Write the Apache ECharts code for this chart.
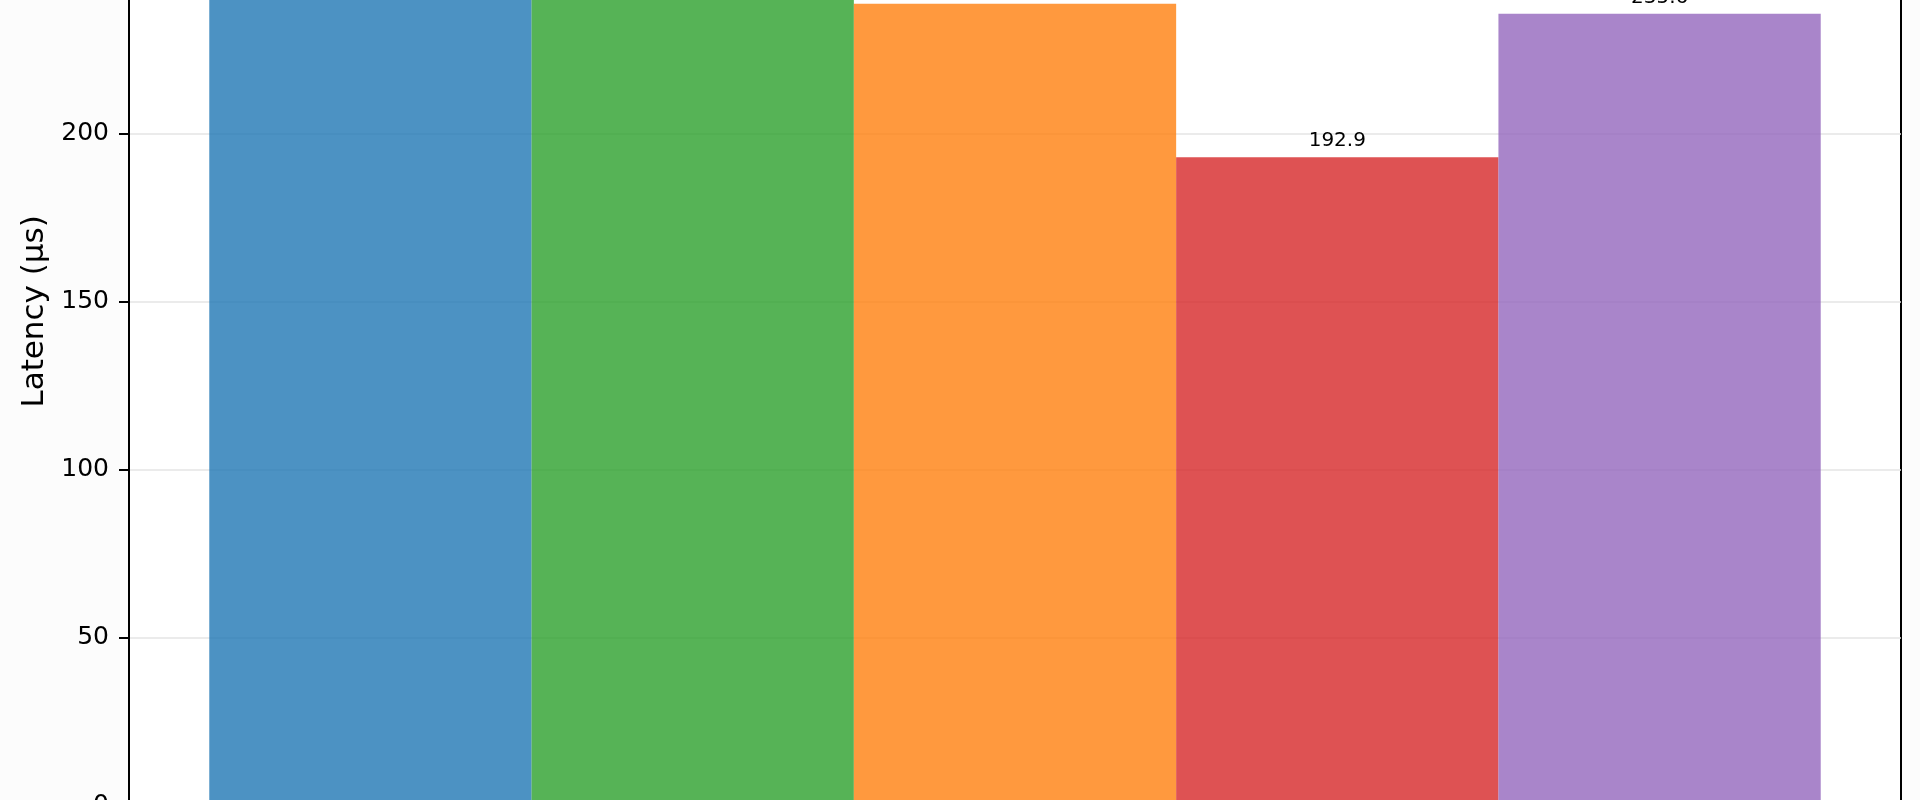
<!DOCTYPE html>
<html>
<head>
<meta charset="utf-8">
<script src="https://cdn.jsdelivr.net/npm/echarts@6/dist/echarts.min.js"></script>
<style>
html,body{margin:0;padding:0;background:#fcfcfc;overflow:hidden;width:1920px;height:800px;}
#chart{position:absolute;left:0;top:-200px;width:1920px;height:1020px;}
</style>
</head>
<body>
<div id="chart"></div>
<script>
// Data
const categories = ['Latency'];
const seriesNames = ['Run 1', 'Run 2', 'Run 3', 'Run 4', 'Run 5'];
const seriesValues = [255.8, 247.3, 238.6, 192.9, 235.6];
const seriesColors = ['#1f77b4', '#2ca02c', '#ff7f0e', '#d62728', '#9467bd'];
const yAxisTitle = 'Latency (μs)';
const yMin = 0, yMax = 294, yInterval = 50;

function withAlpha(hex, a) {
  const r = parseInt(hex.slice(1, 3), 16), g = parseInt(hex.slice(3, 5), 16), b = parseInt(hex.slice(5, 7), 16);
  return 'rgba(' + r + ',' + g + ',' + b + ',' + a + ')';
}

const chart = echarts.init(document.getElementById('chart'), null, {renderer: 'canvas'});
const FONT = 'DejaVu Sans';

const series = seriesNames.map((name, i) => ({
  name: name,
  type: 'bar',
  data: [seriesValues[i]],
  barGap: '0%',
  barCategoryGap: '9.06%',
  itemStyle: {color: withAlpha(seriesColors[i], 0.8)},
  label: {
    show: true,
    position: 'top',
    distance: 6,
    color: '#000',
    fontFamily: FONT,
    fontSize: 20,
    formatter: p => p.value.toFixed(1)
  },
  emphasis: {disabled: true}
}));

chart.setOption({
  animation: false,
  backgroundColor: '#fcfcfc',
  textStyle: {fontFamily: FONT},
  grid: {
    left: 129, right: 19, top: 17.5, bottom: 14.7,
    outerBoundsMode: 'none',
    containLabel: false,
    show: true, backgroundColor: '#ffffff',
    borderColor: '#000', borderWidth: 2
  },
  xAxis: {
    type: 'category',
    data: categories,
    axisLine: {show: true, lineStyle: {color: '#000', width: 2}},
    axisTick: {show: false},
    axisLabel: {show: true, color: '#000', fontSize: 25, fontFamily: FONT},
    splitLine: {show: false}
  },
  yAxis: {
    type: 'value',
    min: yMin, max: yMax, interval: yInterval,
    name: yAxisTitle,
    nameLocation: 'middle',
    nameGap: 76,
    nameTextStyle: {color: '#000', fontSize: 31, fontFamily: FONT},
    axisLine: {show: true, lineStyle: {color: '#000', width: 2}},
    axisTick: {show: true, length: 10, lineStyle: {color: '#000', width: 2}},
    axisLabel: {color: '#000', fontSize: 25, fontFamily: FONT, margin: 20, showMaxLabel: false},
    splitLine: {show: true, lineStyle: {color: '#e4e4e4', width: 1.5}}
  },
  series: series
});
</script>
</body>
</html>
